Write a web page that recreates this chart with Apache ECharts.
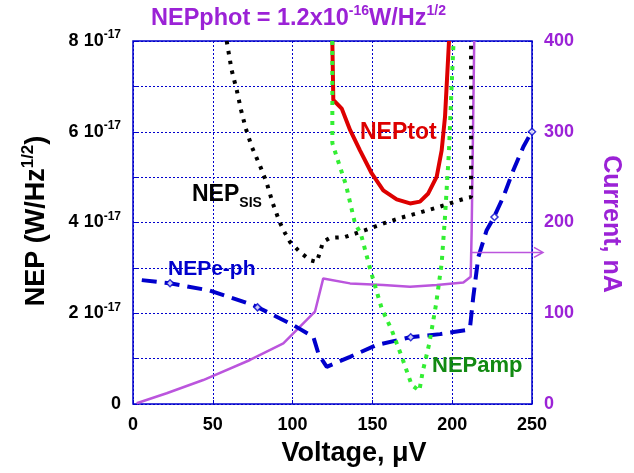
<!DOCTYPE html>
<html>
<head>
<meta charset="utf-8">
<script src="https://cdn.jsdelivr.net/npm/echarts@6/dist/echarts.min.js"></script>
<style>
  html, body { margin: 0; padding: 0; background: #fff; }
  #chart { width: 634px; height: 473px; }
</style>
</head>
<body>
<div id="chart"></div>
<script>
// NEP values in units of 1e-17 W/Hz^1/2, voltage in uV, current in nA
const nepSis = [
  [58.7, 8.0], [61.8, 7.36], [65.0, 6.92], [67.7, 6.48], [70.6, 6.08], [74.4, 5.67],
  [79.6, 5.25], [83.8, 4.87], [87.7, 4.41], [92.1, 3.99], [95.2, 3.77], [98.4, 3.57],
  [104.6, 3.35], [110.9, 3.17], [115.1, 3.13], [117.2, 3.35], [119.0, 3.57], [123.4, 3.66],
  [132.8, 3.68], [145.4, 3.83], [151.6, 3.91], [157.9, 3.99], [168.4, 4.11], [179.8, 4.22],
  [192.4, 4.35], [204.5, 4.49], [210.1, 4.55], [211.8, 4.56], [211.8, 8.0]
]
const nepTot = [
  [124.9, 8.0], [125.5, 6.70], [130.8, 6.51], [136.0, 6.04], [142.2, 5.59], [149.6, 5.08],
  [156.8, 4.71], [165.2, 4.51], [173.6, 4.42], [179.8, 4.46], [185.0, 4.64], [190.3, 5.01],
  [193.4, 5.59], [195.5, 6.33], [196.6, 7.06], [198.0, 8.0]
]
const nepAmp = [
  [124.9, 8.0], [124.9, 5.75], [127.6, 5.45], [133.5, 4.82], [139.1, 3.98], [142.7, 3.76],
  [149.1, 2.91], [155.8, 2.11], [162.1, 1.63], [168.4, 1.04], [174.6, 0.42], [179.4, 0.29],
  [181.5, 0.71], [185.7, 1.34], [189.8, 2.18], [193.4, 3.10], [195.5, 4.13], [198.0, 5.59],
  [199.7, 7.06], [200.7, 7.87], [201.0, 8.0]
]
const nepEph = [
  [5.5, 2.73], [23.2, 2.66], [48.2, 2.50], [75.4, 2.18], [100.4, 1.74], [113.0, 1.48],
  [116.1, 1.12], [117.2, 1.04], [121.4, 0.82], [136.0, 1.04], [152.7, 1.30], [173.6, 1.47],
  [192.4, 1.54], [209.1, 1.63], [211.2, 1.70], [213.2, 2.36], [216.4, 3.24], [221.6, 3.83],
  [225.8, 4.09], [232.1, 4.57], [238.3, 5.15], [244.6, 5.67], [249.8, 6.00]
]
// hollow diamond markers sitting on the e-ph curve
const nepEphMarks = [[23.2, 2.66], [78.0, 2.13], [174.0, 1.47], [226.5, 4.12], [250, 6.0]]
const current = [
  [2.3, 0.8], [21.1, 11.8], [44.0, 26.4], [73.3, 48.5], [94.2, 66.9], [114.0, 101.7],
  [119.2, 138.4], [136.0, 132.9], [156.8, 131.1], [173.6, 129.2], [190.3, 131.1],
  [207.0, 134.0], [211.6, 140.2], [212.2, 191.6], [213.8, 400]
]
const xTicks = [0, 50, 100, 150, 200, 250]
const leftTicks = [0, 2, 4, 6, 8]
const rightTicks = [0, 100, 200, 300, 400]
const arrowLevel = 167 // nA, arrow pointing to the current axis
const arrowFrom = 212

const purple = '#9b22d6'
const blue = '#0000cc'
const font = 'Liberation Sans, Arial, sans-serif'

const chart = echarts.init(document.getElementById('chart'))

const option = {
  animation: false,
  textStyle: { fontFamily: font },
  grid: {
    left: 133, right: 102, top: 41, bottom: 69,
    show: true, borderColor: blue, borderWidth: 1.5, backgroundColor: 'transparent'
  },
  xAxis: {
    type: 'value', min: 0, max: 250, interval: 50,
    axisLine: { show: false },
    axisTick: { show: true, inside: true, length: 4, lineStyle: { color: blue } },
    axisLabel: {
      color: '#000', fontWeight: 'bold', fontSize: 18, margin: 12,
      formatter: v => (xTicks.includes(v) ? String(v) : '')
    },
    splitLine: { show: true, lineStyle: { color: blue, type: [2, 2], width: 1 } }
  },
  yAxis: [
    {
      type: 'value', min: 0, max: 8, interval: 1,
      axisLine: { show: false },
      axisTick: { show: true, inside: true, length: 4, lineStyle: { color: blue } },
      axisLabel: {
        color: '#000', fontWeight: 'bold', fontSize: 18, margin: 12,
        formatter: v => {
          if (!leftTicks.includes(v)) return ''
          if (v === 0) return '0'
          return v + ' 10{sup|-17}'
        },
        rich: {
          sup: { fontSize: 12, fontWeight: 'bold', color: '#000', padding: [0, 0, 12, 0], fontFamily: font }
        }
      },
      splitLine: { show: true, lineStyle: { color: blue, type: [2, 2], width: 1 } }
    },
    {
      type: 'value', min: 0, max: 400, interval: 50,
      axisLine: { show: false },
      axisTick: { show: true, inside: true, length: 4, lineStyle: { color: blue } },
      axisLabel: {
        color: purple, fontWeight: 'bold', fontSize: 18, margin: 12,
        formatter: v => (rightTicks.includes(v) ? String(v) : '')
      },
      splitLine: { show: false }
    }
  ],
  series: [
    {
      name: 'current', type: 'line', yAxisIndex: 1, data: current,
      showSymbol: false, lineStyle: { color: '#bb55dd', width: 2.5 }, z: 2
    },
    {
      name: 'NEPsis', type: 'line', data: nepSis, showSymbol: false,
      lineStyle: { color: '#000', width: 4, type: [3.5, 6.5] }, z: 3
    },
    {
      name: 'NEPe-ph', type: 'line', data: nepEph, showSymbol: false,
      lineStyle: { color: blue, width: 4, type: [15, 8] }, z: 3
    },
    {
      name: 'NEPe-ph marks', type: 'scatter', data: nepEphMarks,
      symbol: 'diamond', symbolSize: 7,
      itemStyle: { color: '#fff', borderColor: blue, borderWidth: 1.5 }, z: 4
    },
    {
      name: 'NEPtot', type: 'line', data: nepTot, showSymbol: false,
      lineStyle: { color: '#dd0000', width: 4 }, z: 4
    },
    {
      name: 'NEPamp', type: 'line', data: nepAmp, showSymbol: false,
      lineStyle: { color: '#33ee33', width: 4, type: [4, 6] }, z: 5
    }
  ]
}

chart.setOption(option)

// annotations
const p0 = chart.convertToPixel({ xAxisIndex: 0, yAxisIndex: 1 }, [arrowFrom, arrowLevel])
const p1 = chart.convertToPixel({ xAxisIndex: 0, yAxisIndex: 1 }, [250, arrowLevel])
const supStyle = { fontSize: 14, fontWeight: 'bold', padding: [0, 0, 15, 0], fontFamily: font }

chart.setOption({
  graphic: [
    {
      type: 'line', shape: { x1: p0[0], y1: p0[1], x2: p1[0] + 10, y2: p1[1] },
      style: { stroke: '#bb55dd', lineWidth: 1.5 }, z: 10
    },
    {
      type: 'polyline', shape: { points: [[p1[0] + 2, p1[1] - 5], [p1[0] + 11, p1[1]], [p1[0] + 2, p1[1] + 5]] },
      style: { stroke: '#bb55dd', lineWidth: 1.5, fill: null }, z: 10
    },
    {
      type: 'text', left: 151, top: 4,
      style: {
        text: 'NEPphot = 1.2x10{s|-16}W/Hz{s|1/2}',
        fill: purple, font: 'bold 23.5px ' + font,
        rich: { s: Object.assign({}, supStyle, { fill: purple }) }
      }
    },
    {
      type: 'text', x: 37, y: 221, rotation: Math.PI / 2, origin: [0, 0],
      style: {
        text: 'NEP (W/Hz{s|1/2})',
        fill: '#000', font: 'bold 27px ' + font, align: 'center', verticalAlign: 'middle',
        rich: { s: Object.assign({}, supStyle, { fill: '#000', fontSize: 17, padding: [0, 0, 17, 0] }) }
      }
    },
    {
      type: 'text', x: 611, y: 224, rotation: -Math.PI / 2,
      style: {
        text: 'Current, nA', fill: purple, font: 'bold 25px ' + font,
        align: 'center', verticalAlign: 'middle'
      }
    },
    {
      type: 'text', x: 354, y: 454,
      style: {
        text: 'Voltage, \u03bcV', fill: '#000', font: 'bold 27px ' + font,
        align: 'center', verticalAlign: 'middle'
      }
    },
    {
      type: 'text', left: 192, top: 183,
      style: {
        text: 'NEP{s|SIS}', fill: '#000', font: 'bold 23px ' + font,
        rich: { s: { fontSize: 14, fontWeight: 'bold', fill: '#000', padding: [18, 0, 0, 0], fontFamily: font } }
      }
    },
    {
      type: 'text', left: 360, top: 121,
      style: { text: 'NEPtot', fill: '#dd0000', font: 'bold 23px ' + font }
    },
    {
      type: 'text', left: 168, top: 259,
      style: { text: 'NEPe-ph', fill: blue, font: 'bold 21px ' + font }
    },
    {
      type: 'text', left: 432, top: 355,
      style: { text: 'NEPamp', fill: '#128a12', font: 'bold 22px ' + font }
    }
  ]
})
</script>
</body>
</html>
